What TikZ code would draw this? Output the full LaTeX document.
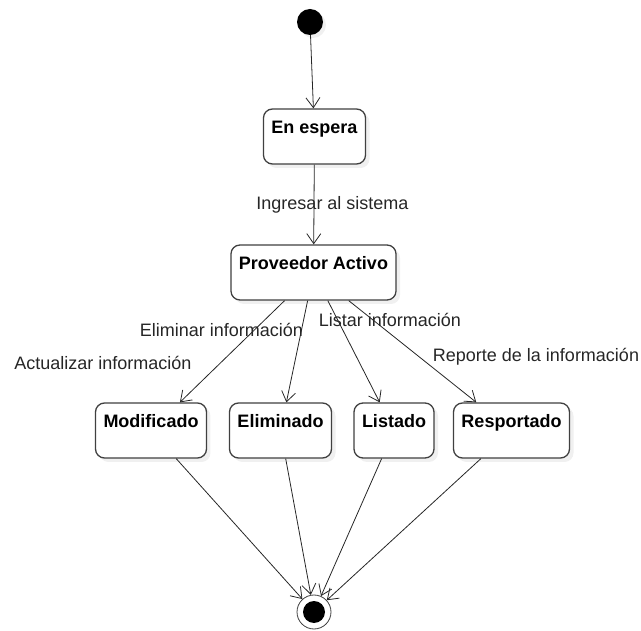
\documentclass[tikz,border=0pt]{standalone}
\usepackage{fontspec}
\setmainfont{Liberation Sans}
\usetikzlibrary{arrows.meta,shadows}

\begin{document}
\begin{tikzpicture}[
  x=1pt, y=-1pt,
  every node/.style = {font=\fontsize{18}{22}\selectfont},
  estado/.style = {draw=black!75, line width=1.3pt, rounded corners=9pt, fill=white,
    font=\fontsize{18}{22}\selectfont\bfseries, inner xsep=8pt, inner ysep=4pt,
    text height=21pt, text depth=26pt,
    drop shadow={opacity=0.12, shadow xshift=4pt, shadow yshift=-4pt}},
  trans/.style = {draw=black!85, line width=0.8pt, -{Straight Barb[length=10pt, width=14pt]}},
  etiqueta/.style = {anchor=base, inner sep=0pt, text=black!85}
]
\useasboundingbox (0,0) rectangle (641,631);

% estados
\node[circle, fill=black, minimum size=26pt, inner sep=0pt,
  drop shadow={opacity=0.12, shadow xshift=3pt, shadow yshift=-3pt}] (inicio) at (310,22) {};
\node[estado] (espera) at (314.5,136.5) {En espera};
\node[estado] (proveedor) at (313.5,272.5) {Proveedor Activo};
\node[estado] (modificado) at (151,430.5) {Modificado};
\node[estado] (eliminado) at (280.5,430.5) {Eliminado};
\node[estado] (listado) at (394,430.5) {Listado};
\node[estado] (reportado) at (511.5,430.5) {Resportado};
\node[circle, draw=black!75, line width=0.8pt, minimum size=34pt, inner sep=0pt, fill=white] (fin) at (314,612) {};
\fill (fin) circle (11);

% transiciones
\draw[trans] (inicio) -- (espera);
\draw[trans] (espera) -- (proveedor);
\foreach \s in {modificado, eliminado, listado, reportado} {
  \draw[trans] (proveedor) -- (\s);
  \draw[trans] (\s) -- (fin);
}

% etiquetas
\node[etiqueta] (ingresar) at (332.5,210) {Ingresar al sistema};
\node[etiqueta] (actualizar) at (103,370) {Actualizar información};
\node[etiqueta] (eliminar) at (221.5,337) {Eliminar información};
\node[etiqueta] (listar) at (390,327) {Listar información};
\node[etiqueta] (reporte) at (536,362) {Reporte de la información};
\end{tikzpicture}
\end{document}
